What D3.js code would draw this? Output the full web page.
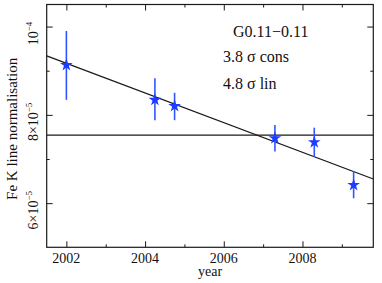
<!DOCTYPE html>
<html>
<head>
<meta charset="utf-8">
<script src="https://cdn.jsdelivr.net/npm/d3@7"></script>
<style>
  body { margin: 0; background: #fff; }
  svg text { font-family: "Liberation Serif", "Times New Roman", serif; fill: #111; }
</style>
</head>
<body>
<div id="chart"></div>
<script>
// data
const years = [2002, 2004.25, 2004.75, 2007.3, 2008.3, 2009.3];
const norms = [9.13e-5, 8.34e-5, 8.2e-5, 7.47e-5, 7.38e-5, 6.41e-5];
const errHi = [9.9e-5, 8.83e-5, 8.5e-5, 7.77e-5, 7.71e-5, 6.73e-5];
const errLo = [8.34e-5, 7.88e-5, 7.88e-5, 7.17e-5, 7.05e-5, 6.11e-5];
const constFit = 7.54e-5;
const linFitYears = [2001.5, 2009.8];
const linFitVals = [9.336e-5, 6.547e-5];
const xMajor = [2002, 2004, 2006, 2008];
const xMinor = [2003, 2005, 2007, 2009];
const yMajor = [6e-5, 8e-5, 1e-4];
const yMinor = [7e-5, 9e-5];
const yTickBase = ["6×10", "8×10", "10"];
const yTickExp = ["−5", "−5", "−4"];
const notes = ["G0.11−0.11", "3.8 σ cons", "4.8 σ lin"];

const width = 382, height = 283;
const margin = { top: 4.5, right: 8.7, bottom: 35.7, left: 46.7 };

const svg = d3.select("#chart").append("svg")
  .attr("width", width).attr("height", height);

const x = d3.scaleLinear().domain([2001.5, 2009.8])
  .range([margin.left, width - margin.right]);
const y = d3.scaleLinear().domain([5e-5, 1.05e-4])
  .range([height - margin.bottom, margin.top]);

const ink = "#1a1a1a";

// ticks on all four sides, pointing inwards
function ticks(axis, values, size, transform) {
  const g = svg.append("g").attr("transform", transform)
    .call(axis.tickValues(values).tickSize(size).tickFormat(""));
  g.select(".domain").remove();
  g.selectAll("line").attr("stroke", ink).attr("stroke-width", 1);
  return g;
}
const bottomY = height - margin.bottom, rightX = width - margin.right;
ticks(d3.axisBottom(x), xMajor, -6, `translate(0,${bottomY})`);
ticks(d3.axisBottom(x), xMinor, -3, `translate(0,${bottomY})`);
ticks(d3.axisTop(x), xMajor, -6, `translate(0,${margin.top})`);
ticks(d3.axisTop(x), xMinor, -3, `translate(0,${margin.top})`);
ticks(d3.axisLeft(y), yMajor, -6, `translate(${margin.left},0)`);
ticks(d3.axisLeft(y), yMinor, -3, `translate(${margin.left},0)`);
ticks(d3.axisRight(y), yMajor, -6, `translate(${rightX},0)`);
ticks(d3.axisRight(y), yMinor, -3, `translate(${rightX},0)`);

// frame
svg.append("rect")
  .attr("x", margin.left).attr("y", margin.top)
  .attr("width", rightX - margin.left).attr("height", bottomY - margin.top)
  .attr("fill", "none").attr("stroke", ink).attr("stroke-width", 1.2);

// x tick labels
svg.selectAll(".xlab").data(xMajor).enter().append("text")
  .attr("x", (d) => x(d)).attr("y", bottomY + 16)
  .attr("text-anchor", "middle").attr("font-size", 14)
  .text((d) => d);

// y tick labels, rotated with superscript exponent
yMajor.forEach((v, i) => {
  const t = svg.append("text")
    .attr("transform", `translate(38,${y(v) + 7}) rotate(-90)`)
    .attr("text-anchor", "middle").attr("font-size", 14);
  t.append("tspan").text(yTickBase[i]);
  t.append("tspan").attr("font-size", 9).attr("dy", -6).text(yTickExp[i]);
});

// axis titles
svg.append("text")
  .attr("x", (margin.left + rightX) / 2).attr("y", 276)
  .attr("text-anchor", "middle").attr("font-size", 14).text("year");
svg.append("text")
  .attr("transform", `translate(17,${(margin.top + bottomY) / 2 + 3}) rotate(-90)`)
  .attr("text-anchor", "middle").attr("font-size", 15)
  .text("Fe K line normalisation");

// constant and linear fits
svg.append("line")
  .attr("x1", margin.left).attr("x2", rightX)
  .attr("y1", y(constFit)).attr("y2", y(constFit))
  .attr("stroke", ink).attr("stroke-width", 1.3);
svg.append("path")
  .datum(linFitYears.map((d, i) => [d, linFitVals[i]]))
  .attr("d", d3.line().x((d) => x(d[0])).y((d) => y(d[1])))
  .attr("fill", "none").attr("stroke", ink).attr("stroke-width", 1.3);

// error bars and star markers
const pts = years.map((d, i) => ({ year: d, v: norms[i], hi: errHi[i], lo: errLo[i] }));
svg.selectAll(".err").data(pts).enter().append("line")
  .attr("x1", (d) => x(d.year)).attr("x2", (d) => x(d.year))
  .attr("y1", (d) => y(d.hi)).attr("y2", (d) => y(d.lo))
  .attr("stroke", "#3355ff").attr("stroke-width", 1.6);
svg.selectAll(".star").data(pts).enter().append("path")
  .attr("d", d3.symbol(d3.symbolStar, 50))
  .attr("transform", (d) => `translate(${x(d.year)},${y(d.v)})`)
  .attr("fill", "#1e3cff");

// annotation text
svg.selectAll(".note").data(notes).enter().append("text")
  .attr("x", (d, i) => (i === 0 ? 233 : 223))
  .attr("y", (d, i) => [37, 62, 89][i])
  .attr("font-size", 16)
  .text((d) => d);
</script>
</body>
</html>
